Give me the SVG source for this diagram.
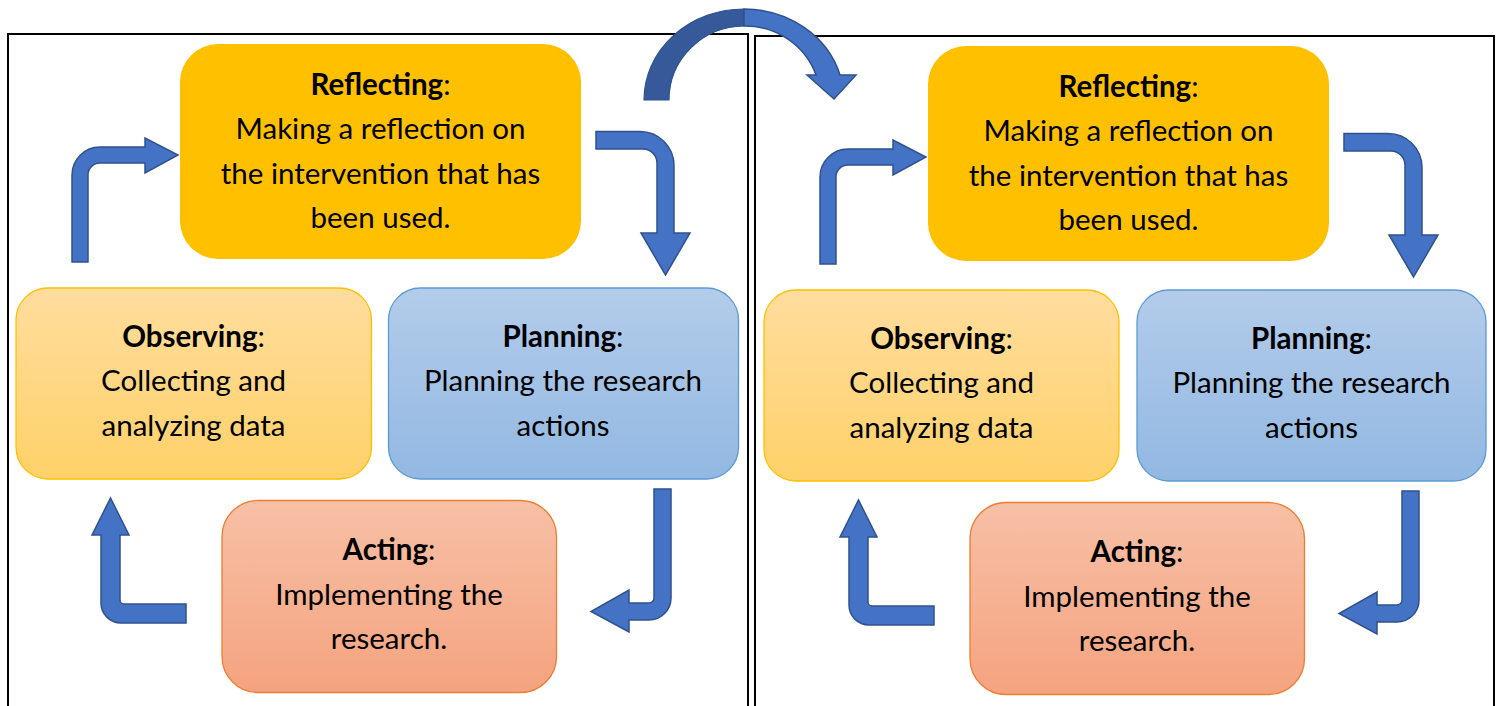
<svg xmlns="http://www.w3.org/2000/svg" xmlns:xlink="http://www.w3.org/1999/xlink" width="1497" height="706" viewBox="0 0 1497 706">
<defs>
<linearGradient id="gObs" x1="0" y1="0" x2="0" y2="1"><stop offset="0" stop-color="#FFDD9E"/><stop offset="1" stop-color="#FFD169"/></linearGradient>
<linearGradient id="gPlan" x1="0" y1="0" x2="0" y2="1"><stop offset="0" stop-color="#B3CCEA"/><stop offset="1" stop-color="#92B8E2"/></linearGradient>
<linearGradient id="gAct" x1="0" y1="0" x2="0" y2="1"><stop offset="0" stop-color="#F7C0A6"/><stop offset="1" stop-color="#F5A37F"/></linearGradient>
<style>
.frame{fill:none;stroke:#000;stroke-width:2}
.refl{fill:#FFC000}
.obs{fill:url(#gObs);stroke:#FFC000;stroke-width:1.3}
.plan{fill:url(#gPlan);stroke:#5B9BD5;stroke-width:1.3}
.act{fill:url(#gAct);stroke:#ED7D31;stroke-width:1.3}
.arr{fill:#4472C4;stroke:#2F528F;stroke-width:1.5;stroke-linejoin:miter}
.arrd{fill:#36599A;stroke:#2F528F;stroke-width:1.2}
text{font-family:Lato,"Liberation Sans",sans-serif;font-size:29.5px;fill:#000;text-anchor:middle}
.b{font-weight:bold}
</style>
</defs>
<g id="frames">
<rect class="frame" x="8" y="34" width="740" height="700"/>
<rect class="frame" x="755" y="36" width="739" height="700"/>
</g>
<g id="reflecting-1">
<rect class="refl" x="180" y="44" width="401" height="215" rx="38"/>
<text x="380.5" y="95"><tspan class="b">Reflecting</tspan>:</text>
<text x="380.5" y="139">Making a reflection on</text>
<text x="380.5" y="184">the intervention that has</text>
<text x="380.5" y="228">been used.</text>
</g>
<g id="observing-1">
<rect class="obs" x="16" y="288" width="355.5" height="191" rx="32"/>
<text x="193.5" y="347"><tspan class="b">Observing</tspan>:</text>
<text x="193.5" y="391">Collecting and</text>
<text x="193.5" y="436">analyzing data</text>
</g>
<g id="planning-1">
<rect class="plan" x="388.5" y="288" width="350" height="191" rx="32"/>
<text x="563" y="347"><tspan class="b">Planning</tspan>:</text>
<text x="563" y="391">Planning the research</text>
<text x="563" y="436">actions</text>
</g>
<g id="acting-1">
<rect class="act" x="222" y="500.5" width="334.5" height="192" rx="36"/>
<text x="389" y="560"><tspan class="b">Acting</tspan>:</text>
<text x="389" y="605">Implementing the</text>
<text x="389" y="649">research.</text>
</g>
<g id="reflecting-2">
<rect class="refl" x="928" y="46" width="401" height="215" rx="38"/>
<text x="1128.5" y="97"><tspan class="b">Reflecting</tspan>:</text>
<text x="1128.5" y="141">Making a reflection on</text>
<text x="1128.5" y="186">the intervention that has</text>
<text x="1128.5" y="230">been used.</text>
</g>
<g id="observing-2">
<rect class="obs" x="764" y="290" width="355" height="191" rx="32"/>
<text x="941.5" y="349"><tspan class="b">Observing</tspan>:</text>
<text x="941.5" y="393">Collecting and</text>
<text x="941.5" y="438">analyzing data</text>
</g>
<g id="planning-2">
<rect class="plan" x="1137" y="290" width="349" height="191" rx="32"/>
<text x="1311.5" y="349"><tspan class="b">Planning</tspan>:</text>
<text x="1311.5" y="393">Planning the research</text>
<text x="1311.5" y="438">actions</text>
</g>
<g id="acting-2">
<rect class="act" x="970" y="502.5" width="334.5" height="192" rx="36"/>
<text x="1137" y="562"><tspan class="b">Acting</tspan>:</text>
<text x="1137" y="607">Implementing the</text>
<text x="1137" y="651">research.</text>
</g>
<g id="connectors">
<g id="cycle-arrows-1">
<path id="a-obs-refl" class="arr" d="M72,262 L72,175 A28,28 0 0 1 100,147 L145,147 L145,138 L178,155 L145,173 L145,163 L100,163 A12,12 0 0 0 88,175 L88,262 Z"/>
<path id="a-refl-plan" class="arr" d="M596,131.5 L640,131.5 A34,34 0 0 1 674,165.5 L674,233 L690,233 L665.5,275 L641,233 L657,233 L657,163 A14,14 0 0 0 643,149 L596,149 Z"/>
<path id="a-plan-act" class="arr" d="M654,489 L671,489 L671,598 A22,22 0 0 1 649,620 L629,620 L629,632 L591,611.5 L629,590 L629,603 L649,603 A5,5 0 0 0 654,598 Z"/>
<path id="a-act-obs" class="arr" d="M186,604 L124,604 A4,4 0 0 1 120,600 L120,535 L129,535 L110.5,498 L92,535 L101,535 L101,603 A20,20 0 0 0 121,623 L186,623 Z"/>
</g>
<use xlink:href="#cycle-arrows-1" transform="translate(748,2)"/>
<g id="a-cycle1-cycle2">
<path class="arrd" d="M644,100 A100,91 0 0 1 744,9 L744,26 A75.5,74 0 0 0 669,100 Z"/>
<path class="arr" d="M744,9 A100,91 0 0 1 840,75 L856,75 L834,99 L807,75 L816,75 A75.5,74 0 0 0 744,26 Z"/>
</g>
</g>
</svg>
